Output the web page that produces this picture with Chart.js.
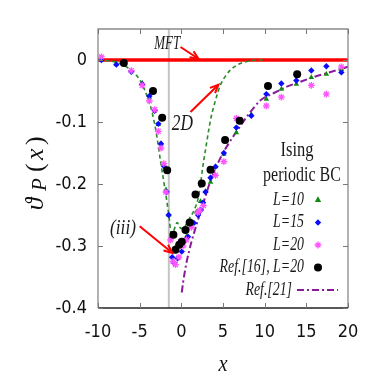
<!DOCTYPE html>
<html><head><meta charset="utf-8">
<script src="https://cdn.jsdelivr.net/npm/chart.js@4.4.1/dist/chart.umd.min.js"></script>
<style>html,body{margin:0;padding:0;background:#fff;}#wrap{width:374px;height:382px;}</style>
</head><body><div id="wrap"><canvas id="c" width="374" height="382"></canvas></div>
<script>
// ---- tick values ----
const xTickValues = [-10, -5, 0, 5, 10, 15, 20];
const yTickValues = [-0.4, -0.3, -0.2, -0.1, 0];

// ---- MFT (red line) ----
const mftX = [-10, 20];
const mftY = [0, 0];

// ---- 2D (green dashed) ----
const twoDX = [-10,-9,-8,-7,-6,-5,-4,-3.5,-3,-2.5,-2,-1.5,-1.2,-0.9,-0.5,-0.2,0.2,0.6,1.0,1.5,2.0,2.3,2.6,2.9,3.5,4.1,4.7,5.3,5.9,7,8,9,10];
const twoDY = [0,-0.001,-0.003,-0.008,-0.017,-0.032,-0.062,-0.085,-0.118,-0.163,-0.205,-0.25,-0.28,-0.275,-0.262,-0.27,-0.272,-0.265,-0.255,-0.243,-0.224,-0.2,-0.17,-0.145,-0.097,-0.065,-0.04,-0.026,-0.016,-0.006,-0.002,0,0];

// ---- Ref.[21] (purple dash-dot) ----
const ref21X = [0.05,0.2,0.4,0.6,0.9,1.2,1.5,2.0,2.7,3.5,4.2,5.0,6.0,7.0,8.0,9.5,11,12.5,14.3,16,17.5,20];
const ref21Y = [-0.375,-0.36,-0.343,-0.328,-0.31,-0.294,-0.28,-0.258,-0.228,-0.195,-0.172,-0.15,-0.128,-0.108,-0.089,-0.065,-0.054,-0.044,-0.035,-0.027,-0.021,-0.011];

// ---- L=10 (green triangles) ----
const l10X = [-9.6,-7.8,-6.0,-4.7,-3.84,-3.2,-2.76,-2.44,-2.1,-1.84,-1.52,-1.2,-0.6,0.0,0.6,1.2,1.8,2.3,2.9,3.5,4.1,5.1,6.6,8.4,10.2,12.0,13.8,15.6,17.4,19.2];
const l10Y = [0,-0.006,-0.018,-0.037,-0.06,-0.082,-0.104,-0.135,-0.17,-0.209,-0.25,-0.285,-0.3,-0.297,-0.285,-0.268,-0.245,-0.228,-0.212,-0.197,-0.172,-0.152,-0.117,-0.088,-0.063,-0.047,-0.039,-0.028,-0.023,-0.015];

// ---- L=15 (blue diamonds) ----
const l15X = [-9.6,-7.8,-6.0,-4.7,-3.84,-3.2,-2.76,-2.44,-2.1,-1.76,-1.52,-1.1,-0.9,-0.45,0.05,0.5,0.8,1.5,2.0,2.35,2.6,2.9,3.5,4.1,5.1,6.6,8.4,10.2,12.0,13.8,15.6,17.4,19.2];
const l15Y = [0,-0.0075,-0.019,-0.039,-0.058,-0.082,-0.103,-0.135,-0.171,-0.213,-0.25,-0.318,-0.327,-0.32,-0.309,-0.29,-0.285,-0.263,-0.25,-0.242,-0.23,-0.213,-0.19,-0.172,-0.15,-0.109,-0.09,-0.055,-0.038,-0.033,-0.017,-0.01,-0.02];

// ---- L=20 (magenta stars) ----
const l20X = [-9.6,-6.0,-4.7,-3.84,-3.2,-2.76,-2.44,-2.1,-1.85,-1.3,-1.0,-0.7,-0.3,0.2,0.6,1.2,1.96,2.2,2.64,4.1,5.1,6.6,10.2,12.0,15.6,17.4,19.2];
const l20Y = [0.005,-0.017,-0.041,-0.066,-0.08,-0.115,-0.142,-0.167,-0.213,-0.29,-0.325,-0.33,-0.318,-0.3,-0.29,-0.27,-0.246,-0.242,-0.235,-0.186,-0.164,-0.094,-0.074,-0.06,-0.041,-0.055,-0.011];

// ---- Ref.[16], L=20 (black circles) ----
const ref16X = [-6.9,-3.4,-2.3,-1.7,-0.95,-0.7,-0.25,0.05,0.5,1.0,1.7,2.45,3.5,5.25,7.0,10.4,13.9];
const ref16Y = [-0.005,-0.05,-0.093,-0.178,-0.282,-0.306,-0.298,-0.293,-0.274,-0.262,-0.217,-0.199,-0.177,-0.129,-0.098,-0.042,-0.023];

// ---- marker line for (iii) ----
const markerX = -1.5;

const zip = (xs, ys) => xs.map((x, i) => ({x: x, y: ys[i]}));

const SERIF = "'Liberation Serif','DejaVu Serif',serif";
const NARROW = "'Liberation Sans Narrow','DejaVu Sans Condensed',sans-serif";

const datasets = [
  {label:'Ref.[16], L=20', data: zip(ref16X, ref16Y), pointStyle:'circle', pointRadius:4,
   backgroundColor:'#000', borderColor:'#000', borderWidth:0, showLine:false, order:0},
  {label:'L=20', data: zip(l20X, l20Y), pointStyle:'star', pointRadius:3.4,
   backgroundColor:'#ff66ff', borderColor:'#ff55ff', borderWidth:1.3, showLine:false, order:1},
  {label:'L=15', data: zip(l15X, l15Y), pointStyle:'rectRot', pointRadius:3.2,
   backgroundColor:'#0b0bff', borderColor:'#0b0bff', borderWidth:0, showLine:false, order:2},
  {label:'L=10', data: zip(l10X, l10Y), pointStyle:'triangle', pointRadius:3.2,
   backgroundColor:'#128a12', borderColor:'#128a12', borderWidth:0, showLine:false, order:3},
  {label:'Ref.[21]', data: zip(ref21X, ref21Y), showLine:true, pointRadius:0, borderColor:'#8a1a9a',
   borderWidth:2, borderDash:[7,3,2,3], cubicInterpolationMode:'monotone', order:4},
  {label:'2D', data: zip(twoDX, twoDY), showLine:true, pointRadius:0, borderColor:'#2a8a2a',
   borderWidth:1.6, borderDash:[4,3], cubicInterpolationMode:'monotone', order:5},
  {label:'MFT', data: zip(mftX, mftY), showLine:true, pointRadius:0, borderColor:'#ff0000',
   borderWidth:3.5, order:6}
];

const legendOrder = ['L=10','L=15','L=20','Ref.[16], L=20','Ref.[21]'];

const notes = [
  {text:'MFT', x:-1.7, y:0.026, size:18, sx:0.72},
  {text:'2D', x:0.12, y:-0.102, size:24, sx:0.72},
  {text:'(iii)', x:-7.0, y:-0.271, size:21, sx:0.82}
];
const arrows = [
  {x1:-0.1, y1:0.021, x2:2.05, y2:0.002},
  {x1:1.1, y1:-0.084, x2:4.45, y2:-0.04},
  {x1:-5.0, y1:-0.268, x2:-1.1, y2:-0.311}
];

function condText(ctx, text, x, y, font, align, sx) {
  ctx.save();
  ctx.font = font;
  ctx.textBaseline = 'middle';
  ctx.translate(x, y);
  ctx.scale(sx, 1);
  const w = ctx.measureText(text).width;
  let ox = 0;
  if (align === 'right') ox = -w; else if (align === 'center') ox = -w / 2;
  ctx.textAlign = 'left';
  ctx.fillText(text, ox, 0);
  ctx.restore();
}

function drawSymbol(ctx, ds, x, y) {
  const r = ds.pointRadius;
  ctx.save();
  ctx.fillStyle = ds.backgroundColor;
  ctx.strokeStyle = ds.borderColor;
  ctx.lineWidth = ds.borderWidth || 1;
  ctx.beginPath();
  if (ds.pointStyle === 'circle') {
    ctx.arc(x, y, r, 0, Math.PI * 2); ctx.fill();
  } else if (ds.pointStyle === 'triangle') {
    ctx.moveTo(x, y - r * 1.15); ctx.lineTo(x + r, y + r * 0.6); ctx.lineTo(x - r, y + r * 0.6); ctx.closePath(); ctx.fill();
  } else if (ds.pointStyle === 'rectRot') {
    ctx.moveTo(x, y - r); ctx.lineTo(x + r, y); ctx.lineTo(x, y + r); ctx.lineTo(x - r, y); ctx.closePath(); ctx.fill();
  } else if (ds.pointStyle === 'star') {
    for (let k = 0; k < 4; k++) {
      const a = k * Math.PI / 4;
      ctx.moveTo(x - r * Math.cos(a), y - r * Math.sin(a));
      ctx.lineTo(x + r * Math.cos(a), y + r * Math.sin(a));
    }
    ctx.stroke();
  }
  ctx.restore();
}

function arrow(ctx, x1, y1, x2, y2) {
  const a = Math.atan2(y2 - y1, x2 - x1), L = 9, w = 0.42;
  ctx.beginPath(); ctx.moveTo(x1, y1); ctx.lineTo(x2, y2); ctx.stroke();
  ctx.beginPath();
  ctx.moveTo(x2 - L * Math.cos(a - w), y2 - L * Math.sin(a - w));
  ctx.lineTo(x2, y2);
  ctx.lineTo(x2 - L * Math.cos(a + w), y2 - L * Math.sin(a + w));
  ctx.stroke();
}

const decor = {
  id: 'decor',
  beforeDatasetsDraw(chart) {
    const {ctx, chartArea: ca, scales: {x}} = chart;
    ctx.save();
    ctx.strokeStyle = '#c4c4c4';
    ctx.lineWidth = 2;
    const px = x.getPixelForValue(markerX);
    ctx.beginPath(); ctx.moveTo(px, ca.top); ctx.lineTo(px, ca.bottom); ctx.stroke();
    ctx.restore();
  },
  afterDatasetsDraw(chart) {
    const {ctx, chartArea: ca, scales: {x, y}} = chart;
    ctx.save();
    // frame
    ctx.lineWidth = 1.3;
    ctx.strokeStyle = '#8a8a8a';
    ctx.beginPath();
    ctx.moveTo(ca.left, ca.bottom); ctx.lineTo(ca.left, ca.top); ctx.lineTo(ca.right, ca.top); ctx.lineTo(ca.right, ca.bottom);
    ctx.stroke();
    ctx.strokeStyle = '#222';
    ctx.beginPath(); ctx.moveTo(ca.left, ca.bottom); ctx.lineTo(ca.right, ca.bottom); ctx.stroke();
    // inward ticks
    const tl = 5;
    ctx.strokeStyle = '#777';
    ctx.lineWidth = 1;
    xTickValues.forEach(v => {
      const p = Math.round(x.getPixelForValue(v)) + 0.5;
      ctx.beginPath(); ctx.moveTo(p, ca.bottom); ctx.lineTo(p, ca.bottom - tl);
      ctx.moveTo(p, ca.top); ctx.lineTo(p, ca.top + tl); ctx.stroke();
    });
    yTickValues.forEach(v => {
      const p = Math.round(y.getPixelForValue(v)) + 0.5;
      ctx.beginPath(); ctx.moveTo(ca.left, p); ctx.lineTo(ca.left + tl, p);
      ctx.moveTo(ca.right, p); ctx.lineTo(ca.right - tl, p); ctx.stroke();
    });
    // annotations
    ctx.fillStyle = '#1a1a1a';
    notes.forEach(n => {
      condText(ctx, n.text, x.getPixelForValue(n.x), y.getPixelForValue(n.y), 'italic ' + n.size + 'px ' + SERIF, 'center', n.sx);
    });
    ctx.strokeStyle = '#ff0000';
    ctx.lineWidth = 2;
    arrows.forEach(a => {
      arrow(ctx, x.getPixelForValue(a.x1), y.getPixelForValue(a.y1), x.getPixelForValue(a.x2), y.getPixelForValue(a.y2));
    });
    // legend
    const lx = ca.right - 44, sxp = ca.right - 30;
    ctx.fillStyle = '#1a1a1a';
    condText(ctx, 'Ising', ca.right - 51, ca.top + 121, '22px ' + SERIF, 'center', 0.75);
    condText(ctx, 'periodic BC', ca.right - 46, ca.top + 147, '20px ' + SERIF, 'center', 0.8);
    legendOrder.forEach((lab, i) => {
      const ds = chart.data.datasets.find(d => d.label === lab);
      const yy = ca.top + 171 + i * 22.5;
      ctx.fillStyle = '#1a1a1a';
      if (ds.showLine) {
        condText(ctx, lab, lx - 12, yy, 'italic 18px ' + SERIF, 'right', 0.77);
        ctx.save();
        ctx.strokeStyle = ds.borderColor; ctx.lineWidth = ds.borderWidth; ctx.setLineDash(ds.borderDash || []);
        ctx.beginPath(); ctx.moveTo(ca.right - 51, yy); ctx.lineTo(ca.right - 10, yy); ctx.stroke();
        ctx.restore();
      } else {
        condText(ctx, lab, lx, yy, 'italic 18px ' + SERIF, 'right', 0.77);
        drawSymbol(ctx, ds, sxp, yy);
      }
    });
    // axis titles
    ctx.fillStyle = '#111';
    condText(ctx, 'x', (ca.left + ca.right) / 2, 365, 'italic 24px ' + SERIF, 'center', 0.85);
    ctx.save();
    ctx.translate(43, 210);
    ctx.rotate(-Math.PI / 2);
    ctx.textBaseline = 'alphabetic';
    ctx.textAlign = 'left';
    const parts = [
      {t:'\u03D1', u:0, v:0, f:'italic 25px '},
      {t:'P', u:19, v:3, f:'italic 21px '},
      {t:'(', u:38, v:0, f:'26px '},
      {t:'x', u:50, v:0, f:'italic 26px '},
      {t:')', u:65, v:0, f:'26px '}
    ];
    parts.forEach(p => { ctx.font = p.f + SERIF; ctx.fillText(p.t, p.u, p.v); });
    ctx.restore();
    ctx.restore();
  }
};

new Chart(document.getElementById('c'), {
  type: 'scatter',
  data: { datasets: datasets },
  options: {
    responsive: false,
    animation: false,
    devicePixelRatio: 1,
    layout: { padding: { top: 29, right: 26, left: 0, bottom: 0 } },
    plugins: { legend: { display: false }, tooltip: { enabled: false } },
    scales: {
      x: {
        type: 'linear', min: -10, max: 20,
        afterBuildTicks: s => { s.ticks = xTickValues.map(v => ({value: v})); },
        afterFit: s => { s.height = 74; },
        grid: { display: false, drawTicks: false },
        border: { display: false },
        ticks: { color: '#111', padding: 14, font: { family: NARROW, size: 18 }, maxRotation: 0,
                 callback: v => String(v) }
      },
      y: {
        type: 'linear', min: -0.4, max: 0.05,
        afterBuildTicks: s => { s.ticks = yTickValues.map(v => ({value: v})); },
        afterFit: s => { s.width = 98; },
        grid: { display: false, drawTicks: false },
        border: { display: false },
        ticks: { color: '#111', padding: 11, font: { family: NARROW, size: 18 },
                 callback: v => String(Math.round(v * 10) / 10) }
      }
    }
  },
  plugins: [decor]
});
</script></body></html>
